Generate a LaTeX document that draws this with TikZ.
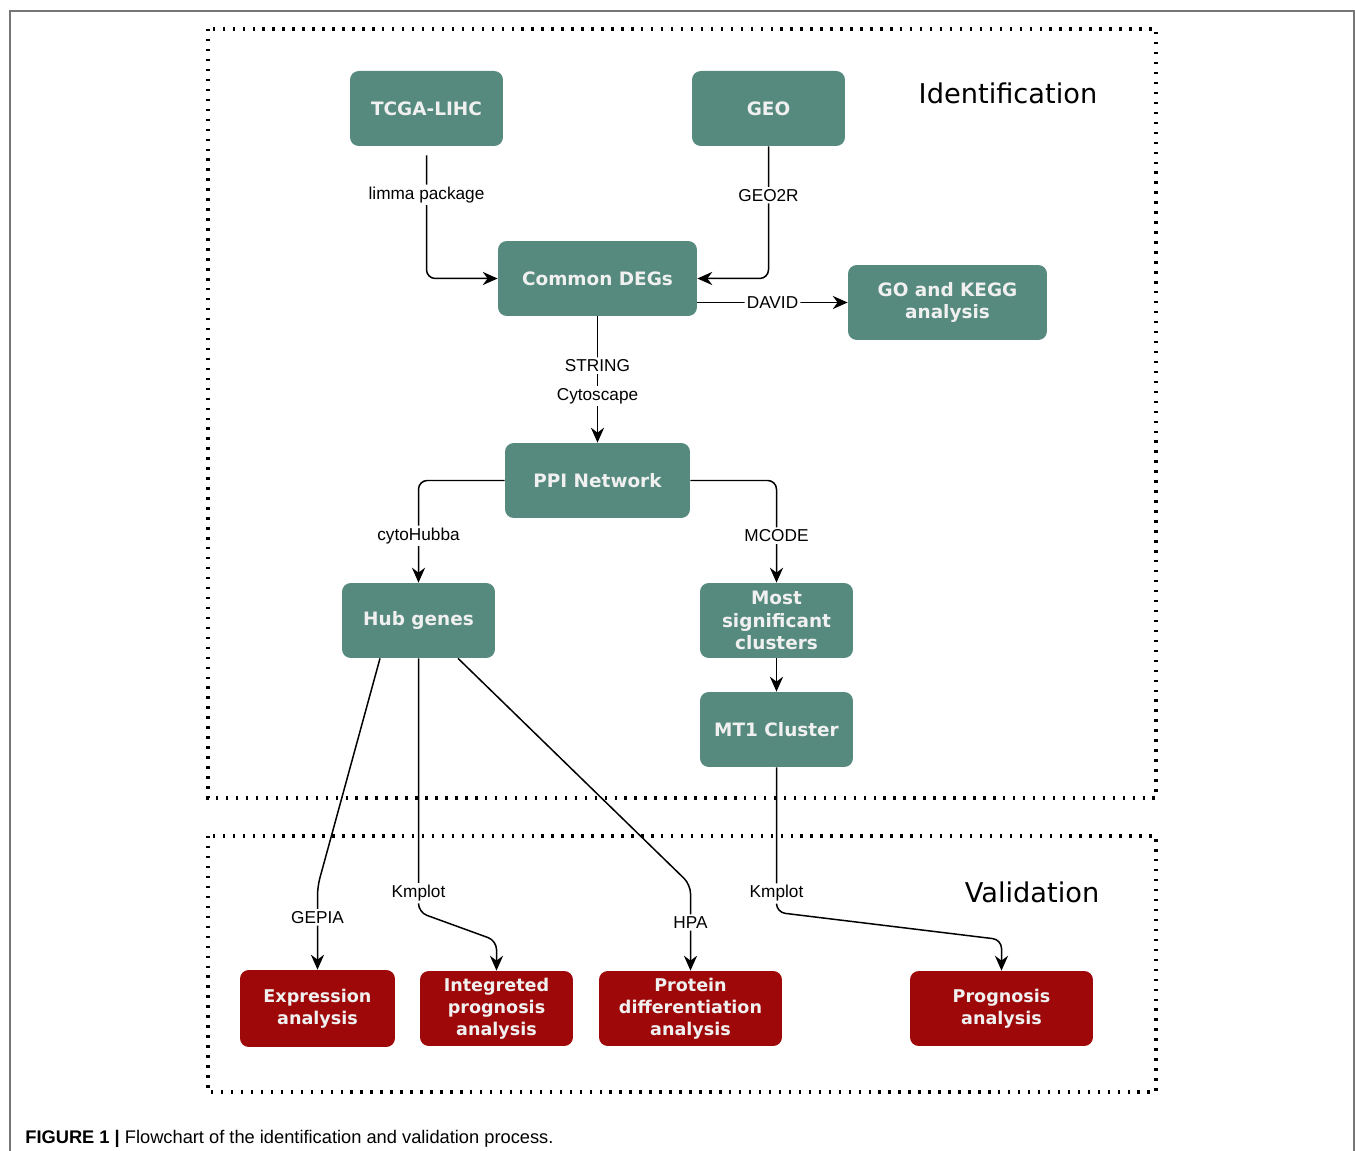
\documentclass[tikz,border=0pt]{standalone}
\usepackage{fontspec}
\setmainfont{Liberation Sans}
\newfontfamily\boxfont{DejaVu Sans}
\usepackage{xcolor}
\definecolor{identbg}{RGB}{86,138,126}
\definecolor{validbg}{RGB}{158,8,8}
\definecolor{pagegray}{RGB}{118,118,118}
\usepackage{tikz}
\usetikzlibrary{positioning, arrows.meta}

\begin{document}
\begin{tikzpicture}[
  x=0.02cm, y=-0.02cm,
  stage/.style={rounded corners=5pt, minimum height=1.5cm, inner sep=0pt,
               align=center, text=white!94!black,
               font=\boxfont\bfseries\fontsize{10.5}{12.6}\selectfont},
  ident/.style={stage, fill=identbg},
  valid/.style={stage, fill=validbg, font=\boxfont\bfseries\fontsize{10}{12.6}\selectfont},
  tool/.style={fill=white, inner sep=1.2pt, font=\fontsize{9.8}{11}\selectfont},
  flow/.style={-{Stealth[length=8.5pt,width=7.5pt]}, line width=0.85pt, rounded corners=5pt},
  region/.style={line width=2pt, dash pattern=on 1.4pt off 4.27pt},
  heading/.style={font=\boxfont\fontsize{15.5}{18}\selectfont},
]
\useasboundingbox (0,0) rectangle (1355,1151);

% Page frame and the two stages
\draw[pagegray, line width=1.1pt] (10,1151) -- (10,11) -- (1354,11) -- (1354,1151);
\draw[region] (208,29) rectangle (1156,798);
\draw[region] (208,836) rectangle (1156,1092);
\node[heading] (identhead) at (1008,93) {Identification};
\node[heading] (validhead) at (1032,892) {Validation};

% Identification
\node[ident, minimum width=3.06cm] (tcga) at (426.5,108.5) {TCGA-LIHC};
\node[ident, minimum width=3.06cm] (geo) at (768.5,108.5) {GEO};
\node[ident, minimum width=3.98cm] (degs) at (597.5,278.5) {Common DEGs};
\node[ident, minimum width=3.98cm] (gokegg) at (947.5,302.5) {GO and KEGG\\analysis};
\node[ident, minimum width=3.7cm] (ppi) at (597.5,480.5) {PPI Network};
\node[ident, minimum width=3.06cm] (hub) at (418.5,620.5) {Hub genes};
\node[ident, minimum width=3.06cm] (clusters) at (776.5,620.5) {Most\\significant\\clusters};
\node[ident, minimum width=3.06cm] (mt1) at (776.5,729.5) {MT1 Cluster};

% Validation
\node[valid, minimum width=3.1cm, minimum height=1.54cm] (expr) at (317.5,1008.5) {Expression\\analysis};
\node[valid, minimum width=3.06cm] (integ) at (496.5,1008.5) {Integreted\\prognosis\\analysis};
\node[valid, minimum width=3.66cm] (protein) at (690.5,1008.5) {Protein\\differentiation\\analysis};
\node[valid, minimum width=3.66cm] (progn) at (1001.5,1008.5) {Prognosis\\analysis};

% Bends of the long connectors
\coordinate (gepiaturn) at ([yshift=1.66cm]expr.north);
\coordinate (kmturna) at ([yshift=-5.08cm]hub.south);
\coordinate (kmturnb) at ([yshift=0.6cm]integ.north);
\coordinate (hpaturn) at ([yshift=1.72cm]protein.north);
\coordinate (kmturnc) at ([yshift=-2.9cm]mt1.south);
\coordinate (kmturnd) at ([yshift=0.62cm]progn.north);

% Connectors
\draw[flow] ([yshift=-0.18cm]tcga.south) |- node[tool, pos=0.16] {limma package} (degs.west);
\draw[flow] (geo.south) |- node[tool, pos=0.185] {GEO2R} (degs.east);
\draw[flow] (degs.east |- gokegg.west) -- node[tool] {DAVID} (gokegg.west);
\draw[flow] (degs) -- node[tool, pos=0.39] {STRING} node[tool, pos=0.63] {Cytoscape} (ppi);
\draw[flow] (ppi.west) -| node[tool, pos=0.77] {cytoHubba} (hub.north);
\draw[flow] (ppi.east) -| node[tool, pos=0.77] {MCODE} (clusters.north);
\draw[flow] (clusters) -- (mt1);
\draw[flow] ([xshift=-0.77cm]hub.south) -- (gepiaturn) -- node[tool, pos=0.37] {GEPIA} (expr.north);
\draw[flow] (hub.south) -- node[tool, pos=0.925] {Kmplot} (kmturna) -- (kmturnb) -- (integ.north);
\draw[flow] ([xshift=0.79cm]hub.south) -- (hpaturn) -- node[tool, pos=0.44] {HPA} (protein.north);
\draw[flow] (mt1.south) -- node[tool, pos=0.87] {Kmplot} (kmturnc) -- (kmturnd) -- (progn.north);

% Caption
\node[anchor=west, inner sep=0pt, font=\fontsize{10.4}{12}\selectfont] (caption) at (25,1139)
  {\textbf{FIGURE 1 |} Flowchart of the identification and validation process.};
\end{tikzpicture}
\end{document}
